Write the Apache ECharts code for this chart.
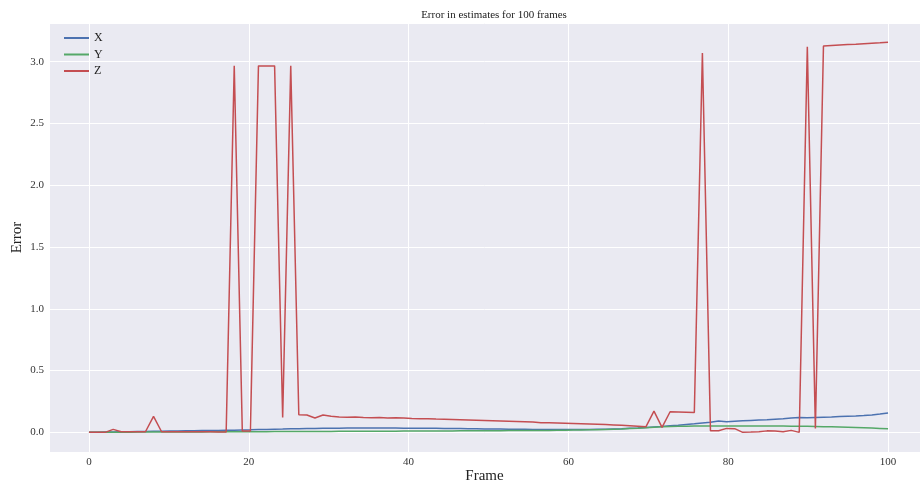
<!DOCTYPE html>
<html>
<head>
<meta charset="utf-8">
<script src="https://cdn.jsdelivr.net/npm/echarts@6/dist/echarts.min.js"></script>
<style>
  html, body { margin: 0; padding: 0; background: #fff; }
  #main { width: 921px; height: 489px; }
</style>
</head>
<body>
<div id="main"></div>
<script>
// 100 frames spread over 0..100 (linspace)
var frameCount = 100;

var errX = [
  0, 0.001, 0.002, 0.003, 0.004, 0.005, 0.006, 0.007, 0.008, 0.009,
  0.010, 0.011, 0.012, 0.013, 0.014, 0.015, 0.016, 0.017, 0.018, 0.020,
  0.021, 0.023, 0.024, 0.026, 0.027, 0.029, 0.030, 0.031, 0.032, 0.033,
  0.034, 0.034, 0.035, 0.035, 0.035, 0.035, 0.035, 0.035, 0.035, 0.034,
  0.034, 0.034, 0.033, 0.033, 0.032, 0.032, 0.031, 0.030, 0.029, 0.028,
  0.027, 0.027, 0.026, 0.025, 0.025, 0.024, 0.024, 0.023, 0.023, 0.023,
  0.023, 0.023, 0.024, 0.025, 0.026, 0.028, 0.030, 0.033, 0.036, 0.040,
  0.044, 0.048, 0.053, 0.058, 0.064, 0.069, 0.075, 0.081, 0.092, 0.086,
  0.090, 0.093, 0.096, 0.099, 0.102, 0.106, 0.110, 0.116, 0.120, 0.118,
  0.121, 0.123, 0.125, 0.128, 0.130, 0.132, 0.136, 0.141, 0.148, 0.156
];

var errY = [
  0, 0, 0.001, 0.001, 0.001, 0.001, 0.002, 0.002, 0.002, 0.002,
  0.002, 0.003, 0.003, 0.003, 0.003, 0.004, 0.004, 0.004, 0.004, 0.005,
  0.005, 0.005, 0.005, 0.006, 0.006, 0.006, 0.006, 0.007, 0.007, 0.007,
  0.007, 0.008, 0.008, 0.008, 0.008, 0.009, 0.009, 0.009, 0.009, 0.010,
  0.010, 0.010, 0.010, 0.011, 0.011, 0.011, 0.012, 0.012, 0.012, 0.013,
  0.013, 0.013, 0.014, 0.014, 0.015, 0.015, 0.016, 0.016, 0.017, 0.018,
  0.019, 0.020, 0.021, 0.022, 0.024, 0.026, 0.028, 0.031, 0.034, 0.038,
  0.042, 0.045, 0.047, 0.049, 0.050, 0.051, 0.051, 0.052, 0.052, 0.052,
  0.052, 0.052, 0.052, 0.052, 0.052, 0.052, 0.051, 0.050, 0.050, 0.049,
  0.048, 0.046, 0.045, 0.043, 0.041, 0.039, 0.037, 0.035, 0.032, 0.029
];

var errZ = [
  0, 0, 0, 0.024, 0.005, 0.005, 0.005, 0.005, 0.13, 0.005,
  0.004, 0.004, 0.004, 0.004, 0.004, 0.004, 0.003, 0.003, 2.966, 0.01,
  0.01, 2.966, 2.966, 2.966, 0.12, 2.966, 0.143, 0.14, 0.116, 0.14,
  0.13, 0.125, 0.122, 0.124, 0.12, 0.118, 0.121, 0.116, 0.118, 0.116,
  0.112, 0.11, 0.111, 0.108, 0.106, 0.104, 0.102, 0.1, 0.098, 0.096,
  0.094, 0.092, 0.09, 0.088, 0.086, 0.083, 0.078, 0.078, 0.076, 0.074,
  0.072, 0.07, 0.068, 0.066, 0.063, 0.06, 0.057, 0.054, 0.05, 0.045,
  0.172, 0.04, 0.167, 0.165, 0.163, 0.16, 3.07, 0.013, 0.013, 0.032,
  0.03, 0.0, 0.002, 0.005, 0.012, 0.01, 0.005, 0.016, 0.0, 3.12,
  0.032, 3.127, 3.131, 3.135, 3.139, 3.142, 3.146, 3.15, 3.153, 3.157
];

var seriesNames = ['X', 'Y', 'Z'];
var seriesColors = ['#4C72B0', '#55A868', '#C44E52'];
var xTicks = [0, 20, 40, 60, 80, 100];
var yTicks = [0, 0.5, 1, 1.5, 2, 2.5, 3];

var frames = [];
for (var i = 0; i < frameCount; i++) {
    frames.push(i * 100 / (frameCount - 1));
}

function pairUp(vals) {
    var out = [];
    for (var i = 0; i < vals.length; i++) {
        out.push([frames[i], vals[i]]);
    }
    return out;
}

function isTick(list, v) {
    for (var i = 0; i < list.length; i++) {
        if (Math.abs(list[i] - v) < 1e-6) return true;
    }
    return false;
}

var font = 'Liberation Serif';
var allVals = [errX, errY, errZ];
var series = [];
for (var k = 0; k < seriesNames.length; k++) {
    series.push({
        name: seriesNames[k],
        type: 'line',
        data: pairUp(allVals[k]),
        symbol: 'none',
        animation: false,
        lineStyle: { color: seriesColors[k], width: 1.5 },
        itemStyle: { color: seriesColors[k] }
    });
}

var option = {
    backgroundColor: '#ffffff',
    animation: false,
    title: {
        text: 'Error in estimates for 100 frames',
        left: 489,
        textAlign: 'center',
        top: 5,
        textStyle: { fontFamily: font, fontSize: 11, fontWeight: 'normal', color: '#222' }
    },
    legend: {
        orient: 'vertical',
        left: 59,
        top: 26,
        icon: 'rect',
        itemWidth: 25,
        itemHeight: 2,
        itemGap: 2.5,
        data: seriesNames,
        textStyle: { fontFamily: font, fontSize: 12, color: '#222', lineHeight: 14 }
    },
    grid: {
        left: 49, right: 1, top: 23, bottom: 37,
        outerBoundsMode: 'none',
        containLabel: false,
        show: true,
        backgroundColor: '#EAEAF2',
        borderWidth: 0
    },
    xAxis: {
        type: 'value',
        min: -5,
        max: 104,
        splitNumber: 5,
        name: 'Frame',
        nameLocation: 'middle',
        nameGap: 17,
        nameMoveOverlap: false,
        nameTextStyle: { fontFamily: font, fontSize: 15, color: '#222' },
        axisLine: { show: false },
        axisTick: { show: false },
        axisLabel: {
            fontFamily: font, fontSize: 11, color: '#333', margin: 5,
            formatter: function (v) { return isTick(xTicks, v) ? String(v) : ''; }
        },
        splitLine: { show: true, lineStyle: { color: '#ffffff', width: 1 } }
    },
    yAxis: {
        type: 'value',
        min: -0.159,
        max: 3.313,
        splitNumber: 7,
        name: 'Error',
        nameLocation: 'middle',
        nameGap: 24,
        nameMoveOverlap: false,
        nameTextStyle: { fontFamily: font, fontSize: 15, color: '#222' },
        axisLine: { show: false },
        axisTick: { show: false },
        axisLabel: {
            fontFamily: font, fontSize: 11, color: '#333', margin: 5,
            formatter: function (v) { return isTick(yTicks, v) ? v.toFixed(1) : ''; }
        },
        splitLine: { show: true, lineStyle: { color: '#ffffff', width: 1 } }
    },
    series: series
};

echarts.init(document.getElementById('main')).setOption(option);
</script>
</body>
</html>
